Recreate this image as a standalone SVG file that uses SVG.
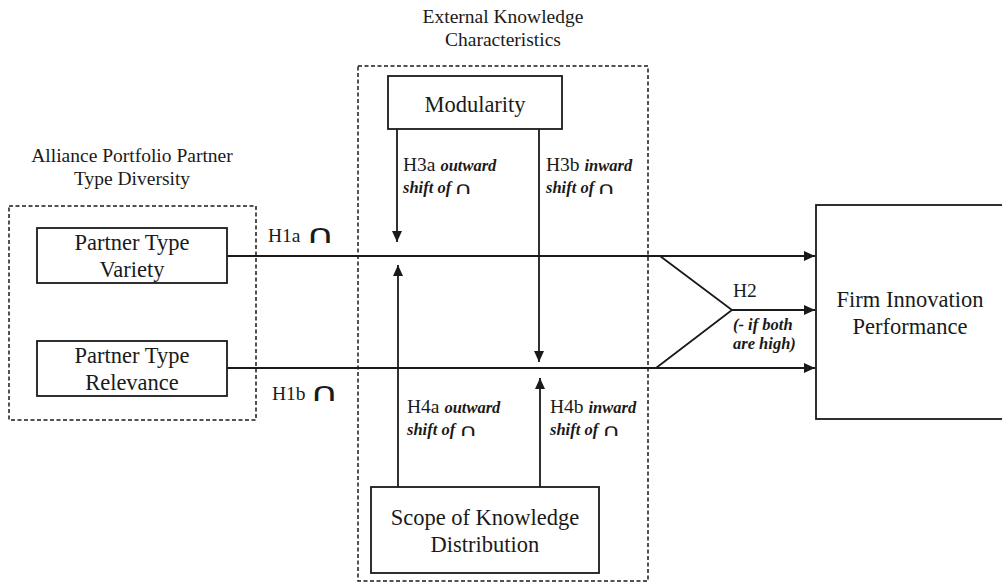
<svg xmlns="http://www.w3.org/2000/svg" width="1002" height="583" viewBox="0 0 1002 583">
<defs>
<marker id="ah" markerUnits="userSpaceOnUse" markerWidth="12" markerHeight="10" refX="11" refY="5" orient="auto">
<path d="M0,0 L11,5 L0,10 z" fill="#1a1a1a"/>
</marker>
<style>
.box{fill:#fff;stroke:#1a1a1a;stroke-width:1.8}
.dash{fill:none;stroke:#1a1a1a;stroke-width:1.5;stroke-dasharray:4 2.5}
.ln{fill:none;stroke:#1a1a1a;stroke-width:1.8}
.t{font-family:"Liberation Serif","Times New Roman",serif;fill:#1a1a1a}
.nb{font-size:22.5px;text-anchor:middle}
.ttl{font-size:19.5px;text-anchor:middle}
.h{font-size:19.5px}
.bi{font-weight:bold;font-style:italic;font-size:16.5px}
.cap{font-family:"DejaVu Sans",sans-serif;font-size:17px;fill:#1a1a1a}
.capL{font-family:"DejaVu Sans",sans-serif;font-size:26px;fill:#1a1a1a}
</style>
</defs>
<rect width="1002" height="583" fill="#fff"/>

<g id="group-alliance">
<text class="t ttl" x="132" y="162">Alliance Portfolio Partner</text>
<text class="t ttl" x="132" y="185">Type Diversity</text>
<rect class="dash" x="9" y="206" width="247" height="214"/>
</g>
<g id="group-external">
<text class="t ttl" x="503" y="23">External Knowledge</text>
<text class="t ttl" x="503" y="46">Characteristics</text>
<rect class="dash" x="358" y="66" width="290" height="515"/>
</g>

<g id="connectors">
<line class="ln" x1="227" y1="256" x2="815" y2="256" marker-end="url(#ah)"/>
<line class="ln" x1="227" y1="368" x2="815" y2="368" marker-end="url(#ah)"/>
<line class="ln" x1="397" y1="129" x2="397" y2="242" marker-end="url(#ah)"/>
<line class="ln" x1="539" y1="129" x2="539" y2="362" marker-end="url(#ah)"/>
<line class="ln" x1="398" y1="487" x2="398" y2="265" marker-end="url(#ah)"/>
<line class="ln" x1="540" y1="487" x2="540" y2="378" marker-end="url(#ah)"/>
<polyline class="ln" points="660,256 732,310 656,368"/>
<line class="ln" x1="732" y1="310" x2="815" y2="310" marker-end="url(#ah)"/>
</g>

<g id="labels">
<text class="t h" x="268" y="242">H1a</text>
<text class="capL" transform="translate(306,243) scale(1.55,1)">∩</text>
<text class="t h" x="272" y="400">H1b</text>
<text class="capL" transform="translate(310,401) scale(1.55,1)">∩</text>
<text class="t h" x="403" y="171">H3a <tspan class="bi">outward</tspan></text>
<text class="t bi" x="403" y="193">shift of</text>
<text class="cap" transform="translate(454,194) scale(1.5,1)">∩</text>
<text class="t h" x="546" y="171">H3b <tspan class="bi">inward</tspan></text>
<text class="t bi" x="546" y="193">shift of</text>
<text class="cap" transform="translate(597,194) scale(1.5,1)">∩</text>
<text class="t h" x="407" y="413">H4a <tspan class="bi">outward</tspan></text>
<text class="t bi" x="407" y="435">shift of</text>
<text class="cap" transform="translate(459,436) scale(1.5,1)">∩</text>
<text class="t h" x="550" y="413">H4b <tspan class="bi">inward</tspan></text>
<text class="t bi" x="550" y="435">shift of</text>
<text class="cap" transform="translate(602,436) scale(1.5,1)">∩</text>
<text class="t h" x="733" y="297">H2</text>
<text class="t bi" x="733" y="330">(- if both</text>
<text class="t bi" x="733" y="349">are high)</text>
</g>

<g id="node-variety">
<rect class="box" x="37" y="228" width="190" height="55"/>
<text class="t nb" x="132" y="250">Partner Type</text>
<text class="t nb" x="132" y="277">Variety</text>
</g>
<g id="node-relevance">
<rect class="box" x="37" y="341" width="190" height="55"/>
<text class="t nb" x="132" y="363">Partner Type</text>
<text class="t nb" x="132" y="390">Relevance</text>
</g>
<g id="node-modularity">
<rect class="box" x="388" y="76" width="174" height="53"/>
<text class="t nb" x="475" y="112">Modularity</text>
</g>
<g id="node-scope">
<rect class="box" x="371" y="487" width="228" height="86"/>
<text class="t nb" x="485" y="525">Scope of Knowledge</text>
<text class="t nb" x="485" y="552">Distribution</text>
</g>
<g id="node-firm">
<rect class="box" x="816" y="205" width="190" height="214"/>
<text class="t nb" x="910" y="307" font-size="23px">Firm Innovation</text>
<text class="t nb" x="910" y="334" font-size="23px">Performance</text>
</g>
</svg>
